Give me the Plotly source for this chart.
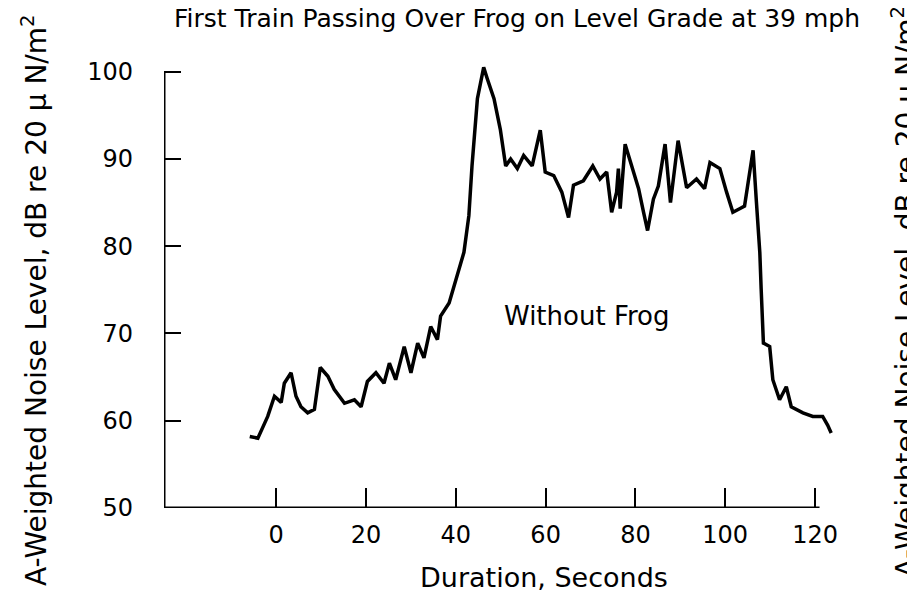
import plotly.graph_objects as go

# Duration (s) and A-weighted level (dB)
duration = [
    -5.9, -4.1, -2.6, -1.9, -0.4, 1.1, 1.8, 3.3, 4.4, 5.5, 7.0, 8.5, 9.8, 11.5,
    12.9, 15.2, 17.4, 18.9, 20.3, 22.2, 24.0, 25.2, 26.6, 28.5, 30.0, 31.5, 32.9,
    34.4, 35.9, 36.6, 38.5, 40.3, 41.8, 42.9, 43.6, 44.8, 46.2, 47.0, 48.5, 49.9,
    51.1, 52.2, 53.7, 55.1, 57.0, 58.8, 59.9, 61.8, 63.6, 65.1, 66.2, 68.4, 70.5,
    72.1, 73.6, 74.7, 75.8, 76.2, 76.6, 77.7, 79.2, 80.7, 81.8, 82.7, 84.0, 85.1,
    86.6, 87.8, 89.5, 91.4, 93.6, 95.4, 96.6, 98.8, 100.3, 101.7, 103.2, 104.3,
    105.1, 106.2, 106.9, 107.7, 108.0, 108.5, 109.9, 110.6, 112.1, 113.6, 114.7,
    117.3, 119.5, 121.7, 122.8, 123.6,
]
level = [
    58.2, 58.0, 59.7, 60.5, 62.8, 62.1, 64.3, 65.5, 62.8, 61.6, 60.9, 61.3, 66.1, 65.1,
    63.6, 62.0, 62.4, 61.6, 64.5, 65.5, 64.3, 66.6, 64.7, 68.5, 65.5, 68.9, 67.2,
    70.8, 69.3, 72.0, 73.5, 76.6, 79.3, 83.5, 89.2, 96.9, 100.5, 99.2, 96.9, 93.4,
    89.2, 90.0, 88.9, 90.4, 89.2, 93.3, 88.5, 88.1, 86.2, 83.3, 87.0, 87.5, 89.2,
    87.7, 88.5, 83.9, 86.2, 88.9, 84.3, 91.7, 89.2, 86.6, 83.9, 81.8, 85.4, 86.9,
    91.7, 85.0, 92.1, 86.7, 87.7, 86.6, 89.6, 88.9, 86.2, 83.9, 84.3, 84.6,
    87.3, 91.0, 85.4, 79.3, 75.1, 68.9, 68.5, 64.7, 62.4, 63.9, 61.6,
    60.9, 60.5, 60.5, 59.5, 58.6,
]

x_ticks = [0, 20, 40, 60, 80, 100, 120]
y_ticks = [50, 60, 70, 80, 90, 100]

FONT = "DejaVu Sans"
y_label = "A-Weighted Noise Level, dB re 20 \u03bc N/m<sup>2</sup>"

fig = go.Figure()
fig.add_trace(go.Scatter(
    x=duration, y=level, mode="lines",
    line=dict(color="black", width=3.5),
    showlegend=False,
))

# axis lines (the x axis stops at 120 while the trace runs a bit past it)
fig.add_shape(type="line", xref="x", yref="y", x0=-25, x1=121, y0=50, y1=50,
              line=dict(color="black", width=3))
fig.add_shape(type="line", xref="x", yref="y", x0=-25, x1=-25, y0=50, y1=100,
              line=dict(color="black", width=3))

fig.add_annotation(text="Without Frog", x=69, y=72, xref="x", yref="y",
                   xanchor="center", yanchor="middle", showarrow=False,
                   font=dict(family=FONT, size=26, color="black"))
fig.add_annotation(text="Duration, Seconds", x=544, y=577, xref="paper", yref="paper",
                   xanchor="center", yanchor="middle", showarrow=False,
                   font=dict(family=FONT, size=27, color="black"))
fig.add_annotation(text=y_label, x=34, y=300, xref="paper", yref="paper",
                   xanchor="center", yanchor="middle", textangle=-90, showarrow=False,
                   font=dict(family=FONT, size=28, color="black"))
# label of the neighbouring figure, cut off at the right edge of the scan
fig.add_annotation(text=y_label, x=884, y=292, xref="paper", yref="paper",
                   xanchor="left", yanchor="middle", textangle=-90, showarrow=False,
                   font=dict(family=FONT, size=28, color="black"))

# convert the pixel positions above to paper coordinates
L, R, T, B = 164, 74, 63, 88
pw, ph = 907 - L - R, 596 - T - B
for ann in fig.layout.annotations:
    if ann.xref == "paper":
        ann.x = (ann.x - L) / pw
        ann.y = (596 - B - ann.y) / ph

fig.update_layout(
    width=907, height=596,
    margin=dict(l=L, r=R, t=T, b=B),
    paper_bgcolor="white", plot_bgcolor="white",
    font=dict(family=FONT, color="black"),
    title=dict(text="First Train Passing Over Frog on Level Grade at 39 mph",
               x=517 / 907, xanchor="center", y=1 - 18 / 596, yanchor="middle",
               font=dict(family=FONT, size=25, color="black")),
)
fig.update_xaxes(
    range=[-25, 124], tickvals=x_ticks, ticks="inside", ticklen=20, tickwidth=2,
    tickcolor="black", showgrid=False, zeroline=False, showline=False,
    tickfont=dict(family=FONT, size=24), ticklabelstandoff=10, automargin=False,
)
fig.update_yaxes(
    range=[50, 101], tickvals=y_ticks, ticks="inside", ticklen=17, tickwidth=2,
    tickcolor="black", showgrid=False, zeroline=False, showline=False,
    tickfont=dict(family=FONT, size=24), ticklabelstandoff=30, automargin=False,
)

fig.write_html("out.html", config={"displayModeBar": False},
               post_script="document.body.style.margin='0px';")
